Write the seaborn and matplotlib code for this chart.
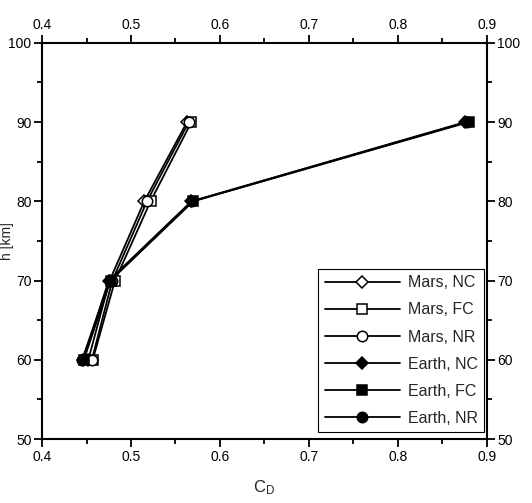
import numpy as np
import pandas as pd
import seaborn as sns
import matplotlib
matplotlib.use("Agg")
import matplotlib.pyplot as plt
from matplotlib.ticker import MultipleLocator

# altitudes et coefficients de trainee
h_km = [60, 70, 80, 90]
cd_mars_nc = [0.452, 0.476, 0.515, 0.563]
cd_mars_fc = [0.457, 0.482, 0.522, 0.568]
cd_mars_nr = [0.456, 0.479, 0.518, 0.565]
cd_earth_nc = [0.446, 0.475, 0.568, 0.876]
cd_earth_fc = [0.447, 0.477, 0.570, 0.880]
cd_earth_nr = [0.445, 0.476, 0.569, 0.878]

series = [
    ("Mars, NC", cd_mars_nc, "D", "white", 6),
    ("Mars, FC", cd_mars_fc, "s", "white", 7),
    ("Mars, NR", cd_mars_nr, "o", "white", 7.5),
    ("Earth, NC", cd_earth_nc, "D", "black", 6),
    ("Earth, FC", cd_earth_fc, "s", "black", 7),
    ("Earth, NR", cd_earth_nr, "o", "black", 7.5),
]

sns.set_style("ticks")
plt.rcParams['font.family'] = ['Liberation Sans', 'DejaVu Sans']
plt.rcParams['mathtext.fontset'] = 'custom'
plt.rcParams['mathtext.rm'] = 'Liberation Sans'
plt.rcParams['mathtext.it'] = 'Liberation Sans'

fig = plt.figure(figsize=(5.32, 5.03), dpi=100)
ax = fig.add_axes([0.079, 0.127, 0.836, 0.788])

for nom, cd, mk, fc, ms in series:
    df = pd.DataFrame({"cd": cd, "h": h_km})
    sns.lineplot(data=df, x="cd", y="h", sort=False, estimator=None, ax=ax,
                 color="black", lw=1.3, marker=mk, markersize=ms,
                 markerfacecolor=fc, markeredgecolor="black", markeredgewidth=1.1,
                 label=nom)

ax.set_xlim(0.4, 0.9)
ax.set_ylim(50, 100)
ax.xaxis.set_major_locator(MultipleLocator(0.1))
ax.xaxis.set_minor_locator(MultipleLocator(0.05))
ax.yaxis.set_major_locator(MultipleLocator(10))
ax.yaxis.set_minor_locator(MultipleLocator(5))
ax.tick_params(which="both", direction="out", top=True, right=True,
               labeltop=True, labelright=True, width=1.3, labelsize=10,
               colors="black", pad=2)
ax.tick_params(which="major", length=5.5)
ax.tick_params(which="minor", length=3.5)
for s in ax.spines.values():
    s.set_linewidth(1.5)
    s.set_color("black")

ax.set_xlabel("C$_\\mathrm{D}$", fontsize=12)
ax.xaxis.set_label_coords(0.5, -0.1)
ax.set_ylabel("h [km]", fontsize=10)
ax.yaxis.set_label_coords(-0.062, 0.5)

leg = ax.legend(loc="lower right", bbox_to_anchor=(0.994, 0.017), borderaxespad=0,
                fontsize=11.5, handlelength=4.7, fancybox=False,
                framealpha=1, edgecolor="black",
                labelspacing=0.76, handletextpad=0.5, borderpad=0.4)
leg.get_frame().set_linewidth(0.8)

fig.savefig("out.png", dpi=100)
